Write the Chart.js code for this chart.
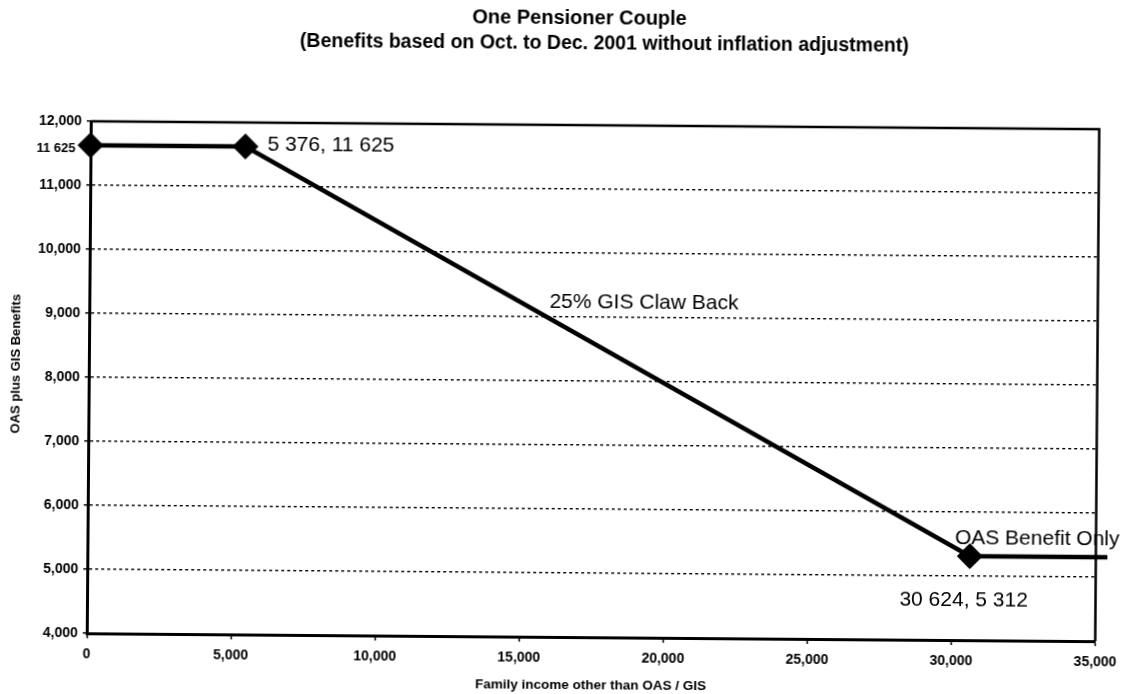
<!DOCTYPE html>
<html>
<head>
<meta charset="utf-8">
<title>One Pensioner Couple</title>
<script src="https://cdn.jsdelivr.net/npm/chart.js@4.4.1/dist/chart.umd.min.js"></script>
<style>
  html, body { margin: 0; padding: 0; background: #fff; overflow: hidden; }
  /* the printed page sits very slightly askew */
  #wrap { width: 1128px; height: 694px; transform: rotate(0.45deg); transform-origin: 564px 347px; }
  canvas { display: block; }
</style>
</head>
<body>
<div id="wrap"><canvas id="chart" width="1128" height="694"></canvas></div>
<script>
// Family income other than OAS / GIS (x) against combined OAS + GIS benefit (y)
const incomes  = [0, 5376, 30624, 35400];
const benefits = [11625, 11625, 5312, 5312];
const markerShown = [true, true, true, false];

const xTicks = [0, 5000, 10000, 15000, 20000, 25000, 30000, 35000];
const yTicks = [4000, 5000, 6000, 7000, 8000, 9000, 10000, 11000, 12000];

const titleLines = [
  'One Pensioner Couple',
  '(Benefits based on Oct. to Dec. 2001 without inflation adjustment)'
];
const xTitle = 'Family income other than OAS / GIS';
const yTitle = 'OAS plus GIS Benefits';
const slopeLabel = '25% GIS Claw Back';
const flatLabel = 'OAS Benefit Only';

const FONT = "'Liberation Sans', Arial, Helvetica, sans-serif";

const commaFmt = v => v.toString().replace(/\B(?=(\d{3})+(?!\d))/g, ',');
const spaceFmt = v => v.toString().replace(/\B(?=(\d{3})+(?!\d))/g, ' ');

const overlay = {
  id: 'overlay',
  beforeDatasetsDraw(chart) {
    const { ctx, chartArea: a } = chart;
    ctx.save();
    ctx.strokeStyle = '#000';
    ctx.lineWidth = 2.5;
    ctx.beginPath();
    ctx.moveTo(a.left, a.top);
    ctx.lineTo(a.right, a.top);
    ctx.lineTo(a.right, a.bottom);
    ctx.stroke();
    ctx.restore();
  },
  afterDatasetsDraw(chart) {
    const { ctx } = chart;
    const xs = chart.scales.x, ys = chart.scales.y;
    const px = i => xs.getPixelForValue(incomes[i]);
    const py = i => ys.getPixelForValue(benefits[i]);
    ctx.save();
    ctx.fillStyle = '#000';
    ctx.textBaseline = 'middle';

    // titles
    ctx.textAlign = 'center';
    ctx.font = 'bold 20px ' + FONT;
    ctx.fillText(titleLines[0], 577, 18);
    ctx.font = 'bold 19.5px ' + FONT;
    ctx.fillText(titleLines[1], 602, 44);

    // axis titles
    ctx.font = 'bold 13.5px ' + FONT;
    ctx.fillText(xTitle, (chart.chartArea.left + chart.chartArea.right) / 2, 685);
    ctx.save();
    ctx.translate(16, 368);
    ctx.rotate(-Math.PI / 2);
    ctx.font = 'bold 13px ' + FONT;
    ctx.fillText(yTitle, 0, 0);
    ctx.restore();

    // starting benefit level beside the y axis
    ctx.textAlign = 'right';
    ctx.font = 'bold 13px ' + FONT;
    ctx.fillText(spaceFmt(benefits[0]), 74, py(0) + 3);

    // point labels
    ctx.textAlign = 'left';
    ctx.font = '21px ' + FONT;
    ctx.fillText(spaceFmt(incomes[1]) + ', ' + spaceFmt(benefits[1]), px(1) + 22, py(1) - 2);
    ctx.fillText(flatLabel, px(2) - 15, py(2) - 18);
    ctx.fillText(spaceFmt(incomes[2]) + ', ' + spaceFmt(benefits[2]), px(2) - 70, py(2) + 44);

    ctx.textAlign = 'center';
    ctx.fillText(slopeLabel, xs.getPixelForValue(19250), ys.getPixelForValue(9230));
    ctx.restore();
  }
};

new Chart(document.getElementById('chart'), {
  type: 'line',
  data: {
    datasets: [{
      data: incomes.map((x, i) => ({ x, y: benefits[i] })),
      borderColor: '#000',
      borderWidth: 4.5,
      tension: 0,
      clip: false,
      pointStyle: 'rectRot',
      pointRadius: markerShown.map(s => (s ? 12.5 : 0)),
      pointBackgroundColor: '#000',
      pointBorderColor: '#000',
      pointBorderWidth: 1
    }]
  },
  options: {
    responsive: false,
    animation: false,
    devicePixelRatio: 1,
    layout: { padding: { top: 125, right: 30.5, left: 0, bottom: 0 } },
    plugins: { legend: { display: false }, tooltip: { enabled: false }, title: { display: false } },
    scales: {
      x: {
        type: 'linear',
        min: 0,
        max: 35000,
        afterBuildTicks: s => { s.ticks = xTicks.map(v => ({ value: v })); },
        afterFit: s => { s.height = 57; },
        grid: { drawOnChartArea: false, drawTicks: true, tickLength: 5, tickColor: '#000', tickWidth: 1.5 },
        border: { display: true, color: '#000', width: 3 },
        ticks: {
          color: '#000',
          font: { family: FONT, size: 14, weight: 'bold' },
          padding: 8,
          maxRotation: 0,
          autoSkip: false,
          callback: v => commaFmt(v)
        }
      },
      y: {
        type: 'linear',
        min: 4000,
        max: 12000,
        afterBuildTicks: s => { s.ticks = yTicks.map(v => ({ value: v })); },
        afterFit: s => { s.width = 89; },
        grid: {
          color: c => (c.tick && c.tick.value > yTicks[0] && c.tick.value < yTicks[yTicks.length - 1]) ? '#000' : 'rgba(0,0,0,0)',
          lineWidth: 1.4,
          tickLength: 4,
          tickColor: '#000',
          tickWidth: 1.5
        },
        border: { display: true, color: '#000', width: 3, dash: [3, 3] },
        ticks: {
          color: '#000',
          font: { family: FONT, size: 14, weight: 'bold' },
          padding: 5,
          autoSkip: false,
          callback: v => commaFmt(v)
        }
      }
    }
  },
  plugins: [overlay]
});
</script>
</body>
</html>
